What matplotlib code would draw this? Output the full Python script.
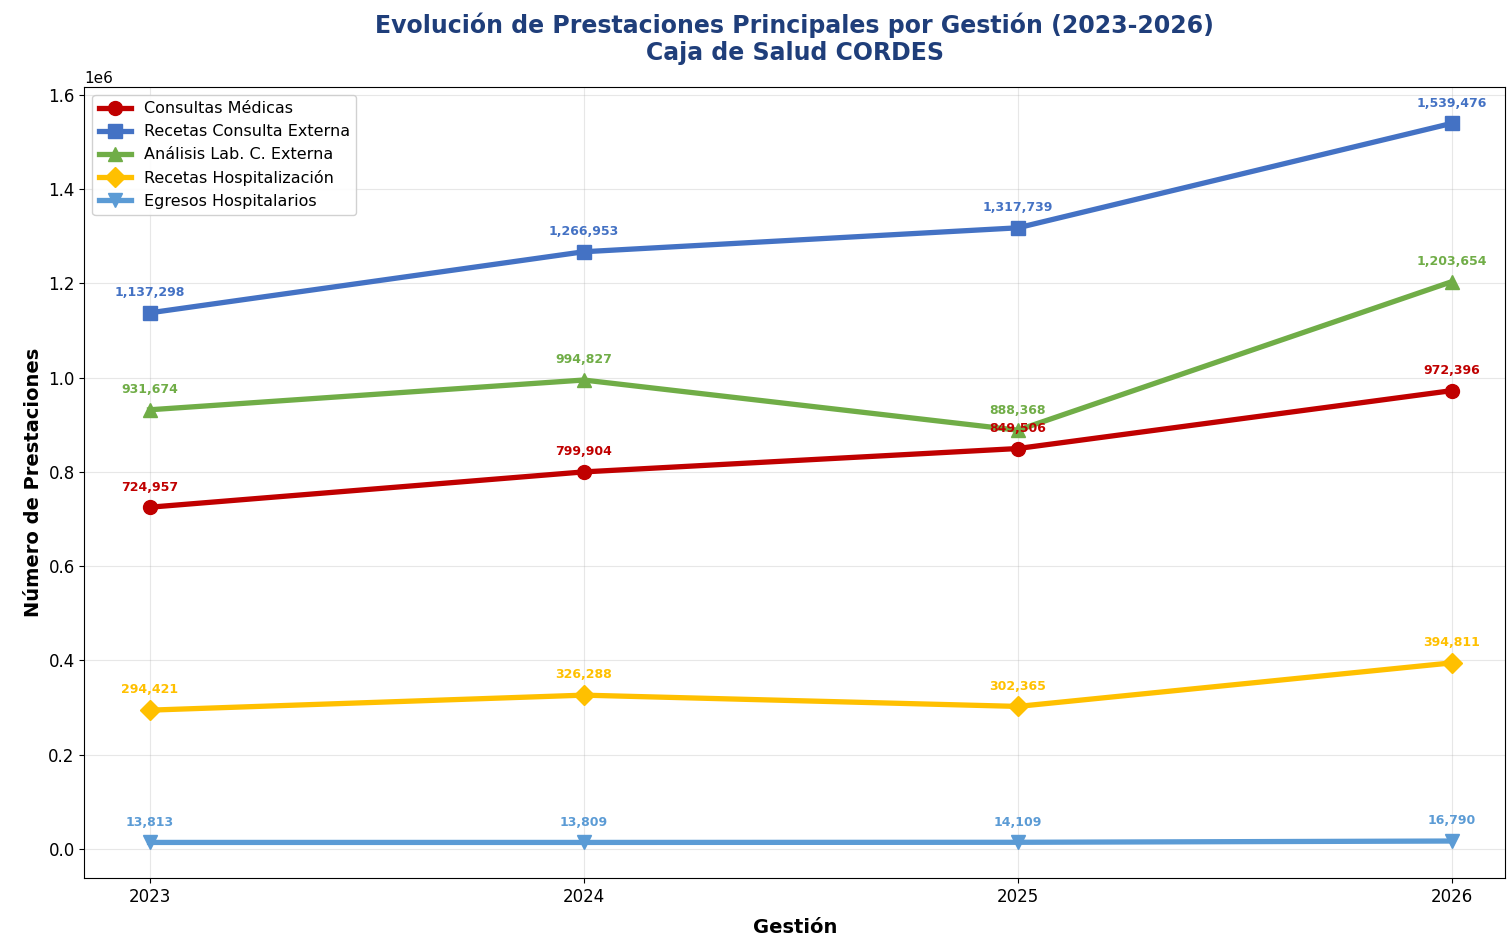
import numpy as np
import matplotlib
matplotlib.use('Agg')
import matplotlib.pyplot as plt

years = [2023, 2024, 2025, 2026]

consultas = [724957, 799904, 849506, 972396]
recetas_ce = [1137298, 1266953, 1317739, 1539476]
analisis = [931674, 994827, 888368, 1203654]
recetas_hosp = [294421, 326288, 302365, 394811]
egresos = [13813, 13809, 14109, 16790]

series_names = ['Consultas Médicas', 'Recetas Consulta Externa', 'Análisis Lab. C. Externa',
                'Recetas Hospitalización', 'Egresos Hospitalarios']
series_vals = [consultas, recetas_ce, analisis, recetas_hosp, egresos]
colors = ['#C00000', '#4472C4', '#70AD47', '#FFC000', '#5B9BD5']
markers = ['o', 's', '^', 'D', 'v']

fig = plt.figure(figsize=(15.08, 9.43), dpi=100)
ax = fig.add_axes([0.056, 0.069, 0.942, 0.839])

for name, vals, c, m in zip(series_names, series_vals, colors, markers):
    ax.plot(years, vals, color=c, marker=m, linewidth=3.8, markersize=10, label=name)
    for x, y in zip(years, vals):
        ax.annotate('{:,}'.format(y), (x, y), textcoords='offset points', xytext=(0, 12),
                    ha='center', fontsize=9, fontweight='bold', color=c)

ax.set_xticks(years)
ax.set_xticklabels([str(y) for y in years])
ax.tick_params(labelsize=12)
ax.grid(True, alpha=0.3)
ax.set_xlim(2022.85, 2026.122)
ax.set_ylim(-0.0615e6, 1.617e6)
ax.set_xlabel('Gestión', fontsize=14, fontweight='bold', labelpad=9)
ax.set_ylabel('Número de Prestaciones', fontsize=14, fontweight='bold')
ax.yaxis.get_offset_text().set_fontsize(11)
ax.legend(loc='upper left', fontsize=11.5, framealpha=0.9)

ax.set_title('Evolución de Prestaciones Principales por Gestión (2023-2026)\nCaja de Salud CORDES',
             fontsize=17, fontweight='bold', color='#1F3E7A', pad=19)

fig.savefig('out.png', dpi=100)
